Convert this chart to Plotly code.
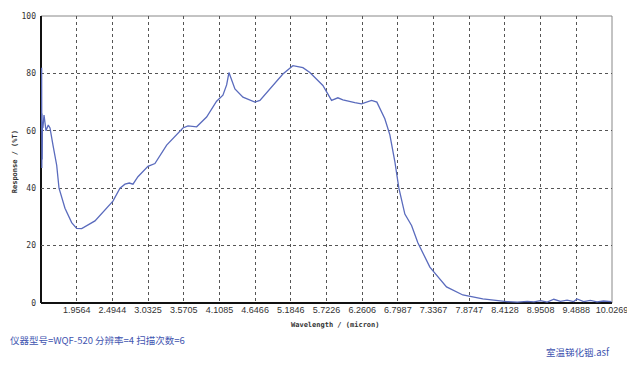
import plotly.graph_objects as go

wavelength = [1.4250, 1.4280, 1.4310, 1.4340, 1.4370, 1.4400, 1.4430, 1.4470,
              1.464, 1.494, 1.528, 1.554, 1.599, 1.655, 1.690, 1.780, 1.881,
              1.956, 2.032, 2.232, 2.503, 2.609, 2.684, 2.750, 2.805, 2.880,
              3.031, 3.136, 3.313, 3.558, 3.634, 3.765, 3.915, 4.066, 4.161,
              4.217, 4.252, 4.292, 4.342, 4.463, 4.643, 4.719, 4.915, 5.065,
              5.216, 5.367, 5.472, 5.668, 5.799, 5.894, 5.970, 6.045, 6.150,
              6.251, 6.402, 6.482, 6.602, 6.678, 6.753, 6.813, 6.904, 7.005,
              7.100, 7.281, 7.532, 7.778, 8.079, 8.441, 8.60, 8.75, 8.85,
              8.95, 9.05, 9.15, 9.25, 9.35, 9.45, 9.50, 9.60, 9.70, 9.80,
              9.90, 10.02]
response = [60, 82, 47, 66, 50, 63, 55, 61,
            65.5, 60, 62, 61, 55, 48, 40, 33, 28,
            26, 25.9, 28.6, 35.5, 40, 41.4, 41.8, 41.4, 44,
            47.6, 48.6, 55, 61, 61.7, 61.4, 64.8, 70.3, 72.4,
            76, 80.3, 78, 74.6, 71.7, 70, 70.6, 75.8, 79.8,
            82.7, 82, 80.3, 75.8, 70.6, 71.5, 70.8, 70.3, 69.8,
            69.4, 70.6, 70, 64.2, 58.6, 49.3, 40.1, 31, 27,
            21, 12.5, 5.6, 2.8, 1.4, 0.5, 0.3, 0.6, 0.4,
            0.8, 0.3, 1.3, 0.6, 1.0, 0.5, 1.4, 0.5, 0.9, 0.4,
            0.7, 0.5]

x_ticks = [1.9564, 2.4944, 3.0325, 3.5705, 4.1085, 4.6466, 5.1846, 5.7226,
           6.2606, 6.7987, 7.3367, 7.8747, 8.4128, 8.9508, 9.4888, 10.0269]
x_tick_labels = ["1.9564", "2.4944", "3.0325", "3.5705", "4.1085", "4.6466",
                 "5.1846", "5.7226", "6.2606", "6.7987", "7.3367", "7.8747",
                 "8.4128", "8.9508", "9.4888", "10.0269"]
y_ticks = [0, 20, 40, 60, 80, 100]
y_tick_labels = ["0", "20", "40", "60", "80", "100"]

fig = go.Figure()
fig.add_trace(go.Scatter(x=wavelength, y=response, mode="lines",
                         line=dict(color="#5a6bbd", width=1.3),
                         showlegend=False, hoverinfo="skip", cliponaxis=False))

grid = dict(showgrid=True, gridcolor="#555555", gridwidth=1, griddash="dot")
fig.update_layout(
    width=627, height=370,
    margin=dict(l=41, r=15, t=13, b=67),
    paper_bgcolor="white", plot_bgcolor="white",
    font=dict(family="Liberation Sans Narrow, Arial Narrow, Liberation Sans", size=9, color="#333333"),
    xaxis=dict(range=[1.4184, 10.02695], tickvals=x_ticks, ticktext=x_tick_labels,
               showline=False, zeroline=False, ticks="", tickfont=dict(size=9),
               ticklabeloverflow="allow", automargin=False, tickangle=0,
               **grid),
    yaxis=dict(range=[0, 100], tickvals=y_ticks, ticktext=y_tick_labels,
               showline=False, zeroline=False, ticks="", ticklabelstandoff=4,
               tickfont=dict(size=8, family="DejaVu Sans Mono", color="#333333"),
               **grid),
    shapes=[
        dict(type="rect", xref="paper", yref="paper", x0=0, x1=1, y0=0, y1=1,
             layer="below", line=dict(color="#888888", width=1)),
        dict(type="line", xref="paper", yref="paper", x0=0, x1=0, y0=0, y1=1,
             layer="below", line=dict(color="#111111", width=2)),
        dict(type="line", xref="paper", yref="paper", x0=0, x1=1, y0=0, y1=0,
             layer="below", line=dict(color="#111111", width=2)),
    ],
    annotations=[
        dict(text="<b>Wavelength / (micron)</b>", xref="paper", yref="paper",
             x=0.515, y=-0.076, xanchor="center", yanchor="middle", showarrow=False,
             font=dict(family="DejaVu Sans Mono", size=7, color="#333333")),
        dict(text="<b>Response / (%T)</b>", xref="paper", yref="paper",
             x=-0.046, y=0.493, xanchor="center", yanchor="middle", showarrow=False,
             textangle=-90,
             font=dict(family="DejaVu Sans Mono", size=7, color="#333333")),
        dict(text="仪器型号=WQF-520 分辨率=4 扫描次数=6", xref="paper", yref="paper",
             x=-0.0578, y=-0.128, xanchor="left", yanchor="middle", showarrow=False,
             font=dict(family="Noto Sans CJK SC", size=9.5, color="#3f55b0")),
        dict(text="室温锑化铟.asf", xref="paper", yref="paper",
             x=1.0, y=-0.172, xanchor="right", yanchor="middle", showarrow=False,
             font=dict(family="Noto Sans CJK SC", size=9.5, color="#3f55b0")),
    ],
)

fig.write_html("out.html", config={"displayModeBar": False},
               post_script="document.body.style.margin='0';document.body.style.overflow='hidden';")
